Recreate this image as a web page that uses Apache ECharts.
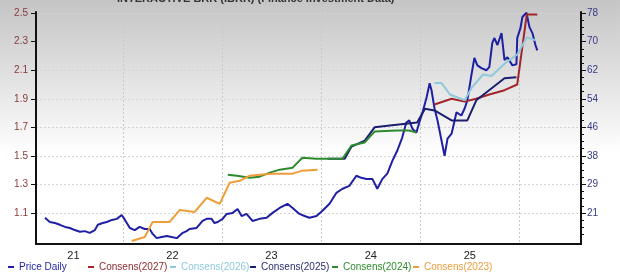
<!DOCTYPE html>
<html><head><meta charset="utf-8">
<script src="https://cdn.jsdelivr.net/npm/echarts@6/dist/echarts.min.js"></script>
<style>html,body{margin:0;padding:0;background:#fff;}#c{width:620px;height:275px;}</style>
</head><body><div id="c"></div>
<script>
// ---- data ----
const titleText = 'INTERACTIVE BRK (IBKR) (Finance Investment Data)';
const yearTicks = ['2022-01-01','2023-01-01','2024-01-01','2025-01-01','2026-01-01'];
const yearLabelPos = ['2021-07-02','2022-07-02','2023-07-02','2024-07-02','2025-07-02'];
const yearLabels = ['21','22','23','24','25'];
const leftTicks = [1.1,1.3,1.5,1.7,1.9,2.1,2.3,2.5];
const rightTickLabels = ['21','29','38','46','54','62','70','78'];

const priceDaily = [
['2021-03-19',19.6],['2021-04-06',18.4],['2021-04-25',18.1],['2021-05-13',17.6],['2021-06-01',17.0],
['2021-06-19',16.7],['2021-07-07',16.1],['2021-07-26',15.6],['2021-08-13',15.8],['2021-08-31',15.3],
['2021-09-19',16.1],['2021-09-30',17.6],['2021-10-18',18.1],['2021-11-02',18.4],['2021-11-21',19.0],
['2021-12-09',19.3],['2021-12-27',20.4],['2022-01-08',19.0],['2022-01-26',16.7],['2022-02-13',16.1],
['2022-03-03',17.0],['2022-03-22',16.4],['2022-04-09',16.4],['2022-04-20',15.0],['2022-05-05',13.8],
['2022-05-23',14.1],['2022-06-11',14.4],['2022-06-29',14.1],['2022-07-18',13.8],['2022-08-09',15.3],
['2022-08-23',15.8],['2022-09-03',16.4],['2022-09-29',16.7],['2022-10-21',18.7],['2022-11-05',19.3],
['2022-11-23',19.3],['2022-12-04',18.1],['2022-12-16',18.4],['2023-01-03',19.3],['2023-01-18',20.7],
['2023-02-09',21.0],['2023-02-27',22.1],['2023-03-14',20.1],['2023-04-01',20.7],['2023-04-23',18.7],
['2023-05-19',19.3],['2023-06-14',19.6],['2023-07-06',21.0],['2023-08-01',22.4],['2023-08-30',23.6],
['2023-09-18',22.4],['2023-10-13',20.7],['2023-11-01',20.1],['2023-11-19',19.6],['2023-12-15',20.1],
['2024-01-06',21.6],['2024-02-01',23.6],['2024-02-26',26.7],['2024-03-20',27.9],['2024-04-14',28.7],
['2024-05-10',31.6],['2024-05-28',31.0],['2024-06-16',30.7],['2024-07-08',30.7],['2024-07-26',27.9],
['2024-08-14',30.7],['2024-09-01',32.2],['2024-09-20',35.9],['2024-10-08',38.8],['2024-10-26',42.5],
['2024-11-10',46.8],['2024-11-21',47.4],['2024-12-02',45.1],['2024-12-17',43.9],['2024-12-28',46.8],
['2025-01-09',49.7],['2025-01-24',54.0],['2025-02-04',58.0],['2025-02-11',56.0],['2025-02-22',50.8],
['2025-03-05',47.4],['2025-03-20',41.6],['2025-03-31',37.3],['2025-04-11',42.2],['2025-04-26',43.6],
['2025-05-14',49.7],['2025-06-01',48.8],['2025-06-13',50.8],['2025-06-23',53.1],['2025-07-08',60.3],
['2025-07-19',65.2],['2025-07-30',63.1],['2025-08-14',62.3],['2025-09-01',61.7],['2025-09-12',62.6],
['2025-09-23',69.5],['2025-10-01',70.9],['2025-10-12',68.9],['2025-10-27',72.3],['2025-11-07',64.6],
['2025-11-18',65.4],['2025-12-06',63.1],['2025-12-21',63.4],['2025-12-24',70.9],['2026-01-05',73.8],
['2026-01-12',76.9],['2026-01-27',78.1],['2026-02-07',74.0],['2026-02-18',72.3],['2026-03-01',68.9],
['2026-03-08',67.4]
];
const consens2027 = [
['2025-02-22',1.86],['2025-04-26',1.90],['2025-06-13',1.88],['2025-07-25',1.90],['2025-09-12',1.93],
['2025-11-07',1.96],['2025-12-24',2.00],['2026-01-28',2.49],['2026-03-08',2.49]
];
const consens2026 = [
['2025-02-22',2.01],['2025-03-20',2.01],['2025-04-20',1.93],['2025-06-13',1.89],['2025-07-10',1.98],
['2025-08-20',2.07],['2025-09-20',2.06],['2025-11-10',2.15],['2025-12-24',2.21],['2026-01-28',2.33],
['2026-03-01',2.31]
];
const consens2025 = [
['2024-01-25',1.48],['2024-03-28',1.48],['2024-04-22',1.565],['2024-06-10',1.607],['2024-07-16',1.70],
['2024-09-10',1.713],['2024-12-20',1.734],['2025-01-18',1.83],['2025-02-22',1.818],['2025-04-26',1.748],
['2025-06-23',1.748],['2025-07-26',1.889],['2025-11-07',2.044],['2025-12-21',2.051]
];
const consens2024 = [
['2023-01-22',1.368],['2023-02-24',1.361],['2023-04-13',1.346],['2023-05-19',1.354],['2023-06-26',1.382],
['2023-08-01',1.403],['2023-09-18',1.417],['2023-10-24',1.487],['2023-12-15',1.480],['2024-03-20',1.480],
['2024-04-22',1.572],['2024-06-09',1.593],['2024-07-16',1.670],['2024-10-05',1.677],['2024-11-21',1.677],
['2024-12-17',1.663]
];
const consens2023 = [
['2022-02-02',0.903],['2022-03-22',0.931],['2022-04-20',1.037],['2022-06-22',1.037],['2022-07-29',1.121],
['2022-09-22',1.107],['2022-11-05',1.206],['2022-12-23',1.163],['2023-01-29',1.311],['2023-03-07',1.325],
['2023-04-13',1.361],['2023-05-19',1.368],['2023-07-06',1.375],['2023-09-18',1.375],['2023-10-24',1.396],
['2023-12-19',1.403]
];

// ---- styling / layout ----
const colors = {
  price:'#1f1fa3', c2027:'#a3252b', c2026:'#8fc9dc', c2025:'#1c1f6e', c2024:'#2e8a2e', c2023:'#ef9d3b'
};
const leftMin = 0.882, leftMax = 2.508;
const toPrice = v => 21 + (v - 1.1) * 57 / 1.4;
const rightTickVals = leftTicks.map(toPrice);
const minorTickVals = [];
for (let i = 0; i < leftTicks.length; i++) {
  const step = 0.05;
  for (let k = 1; k <= 3; k++) {
    const v = leftTicks[i] - k * step;
    if (v > leftMin) minorTickVals.push(toPrice(v));
  }
}

const chart = echarts.init(document.getElementById('c'), null, {renderer:'canvas'});
const ts = s => new Date(s + 'T00:00:00Z').getTime();
const toXY = arr => arr.map(d => [ts(d[0]), d[1]]);
const yearTickTs = yearTicks.map(ts);
const yearLabelTs = yearLabelPos.map(ts);

function legendAt(name, x, col){
  return {show:true, data:[name], left:x, top:262, orient:'horizontal', icon:'rect', itemWidth:6, itemHeight:2,
    itemGap:0, padding:0, textStyle:{color:col, fontSize:10, fontFamily:'Liberation Sans, Arial'}, selectedMode:false};
}

const lineS = (name, data, col, yi, w) => ({
  name, type:'line', data:toXY(data), yAxisIndex:yi, showSymbol:false, symbol:'none',
  lineStyle:{color:col, width:w}, itemStyle:{color:col}, animation:false, z:2
});

chart.setOption({
  animation:false,
  backgroundColor:{type:'linear', x:0, y:0, x2:0, y2:1, colorStops:[
    {offset:0, color:'#c5c5c5'}, {offset:0.45, color:'#f3f3f3'}, {offset:0.56, color:'#ffffff'}, {offset:1, color:'#ffffff'}]},
  graphic:[{type:'text', left:117, top:-7, style:{text:titleText, font:'bold 11px Liberation Sans, Arial', fill:'#333'}}],
  grid:{left:36, right:39, top:12, bottom:31, containLabel:false},
  legend:[
    legendAt('Price Daily', 8, colors.price),
    legendAt('Consens(2027)', 88, '#8e2a2f'),
    legendAt('Consens(2026)', 170, colors.c2026),
    legendAt('Consens(2025)', 250, '#2a2d70'),
    legendAt('Consens(2024)', 332, colors.c2024),
    legendAt('Consens(2023)', 413, colors.c2023)
  ],
  xAxis:{type:'value', min:ts('2021-02-14'), max:ts('2026-08-16'),
    axisLine:{show:true, onZero:false, lineStyle:{color:'#111', width:2}},
    axisTick:{show:false, customValues:yearTickTs},
    axisLabel:{customValues:yearLabelTs, formatter:(v)=>{const i=yearLabelTs.findIndex(t=>Math.abs(t-v)<86400000*3);return i>=0?yearLabels[i]:'';},
      color:'#222', fontSize:11, fontFamily:'Liberation Sans, Arial', margin:6},
    splitLine:{show:true, lineStyle:{color:'#c9c9c9', type:[2,2], width:1}}
  },
  yAxis:[
    {type:'value', min:leftMin, max:leftMax, position:'left',
      axisLine:{show:true, onZero:false, lineStyle:{color:'#111', width:2}},
      axisTick:{show:true, length:5, customValues:leftTicks, lineStyle:{color:'#111'}},
      axisLabel:{customValues:leftTicks, formatter:v=>v.toFixed(1), color:'#8a3a3a', fontSize:10, fontFamily:'Liberation Sans, Arial', margin:8},
      splitLine:{show:true, lineStyle:{color:'#d4d4d4', type:[2,2], width:1}}
    },
    {type:'value', min:toPrice(leftMin), max:toPrice(leftMax), position:'right',
      axisLine:{show:true, onZero:false, lineStyle:{color:'#111', width:2}},
      axisTick:{show:true, length:5, customValues:rightTickVals, lineStyle:{color:'#111'}},
      axisLabel:{customValues:rightTickVals, formatter:v=>{let b=0,d=1e9;rightTickVals.forEach((t,i)=>{if(Math.abs(t-v)<d){d=Math.abs(t-v);b=i;}});return rightTickLabels[b];},
        color:'#3a3a8a', fontSize:10, fontFamily:'Liberation Sans, Arial', margin:6},
      splitLine:{show:false}
    },
    {type:'value', min:toPrice(leftMin), max:toPrice(leftMax), position:'right',
      axisLine:{show:false},
      axisTick:{show:true, length:3, customValues:minorTickVals, lineStyle:{color:'#111'}},
      axisLabel:{show:false},
      splitLine:{show:false}
    }
  ],
  series:[
    lineS('Price Daily', priceDaily, colors.price, 1, 2),
    lineS('Consens(2027)', consens2027, colors.c2027, 0, 2),
    lineS('Consens(2026)', consens2026, colors.c2026, 0, 2),
    lineS('Consens(2025)', consens2025, colors.c2025, 0, 2),
    lineS('Consens(2024)', consens2024, colors.c2024, 0, 2),
    lineS('Consens(2023)', consens2023, colors.c2023, 0, 2)
  ]
});
</script></body></html>
